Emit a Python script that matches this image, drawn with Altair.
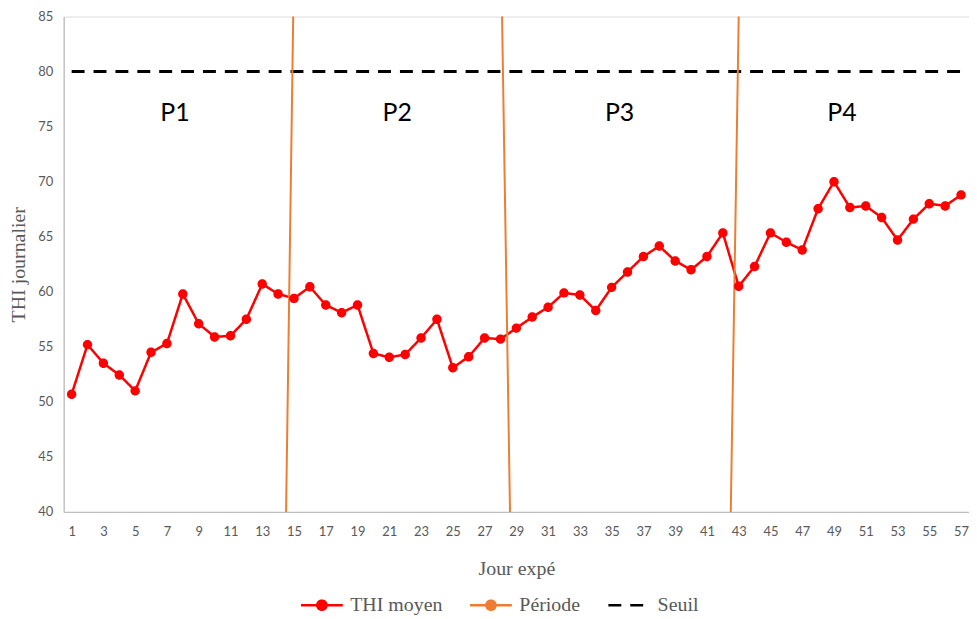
import altair as alt
import pandas as pd

# ---- data ----
days = list(range(1, 58))
thi_moyen = [50.7, 55.2, 53.5, 52.45, 51.0, 54.5, 55.3, 59.8, 57.1, 55.9,
             56.0, 57.5, 60.7, 59.8, 59.4, 60.45, 58.8, 58.1, 58.8, 54.4,
             54.05, 54.3, 55.8, 57.5, 53.1, 54.1, 55.8, 55.7, 56.7, 57.7,
             58.6, 59.9, 59.7, 58.3, 60.4, 61.8, 63.2, 64.15, 62.8, 62.0,
             63.2, 65.35, 60.5, 62.3, 65.35, 64.5, 63.8, 67.55, 70.0, 67.65,
             67.8, 66.75, 64.7, 66.6, 68.0, 67.8, 68.8]

periode_x_bas = [14.5, 28.6, 42.5]
periode_x_haut = [14.95, 28.1, 43.0]
periode_y_bas = [40, 40, 40]
periode_y_haut = [85, 85, 85]

seuil_value = 80
seuil_x_start = 1
seuil_x_end = 57

period_labels = ["P1", "P2", "P3", "P4"]
period_label_x = [7.5, 21.5, 35.5, 49.5]
period_label_y = [76.2, 76.2, 76.2, 76.2]

x_ticks = [1, 3, 5, 7, 9, 11, 13, 15, 17, 19, 21, 23, 25, 27, 29, 31, 33, 35,
           37, 39, 41, 43, 45, 47, 49, 51, 53, 55, 57]
y_ticks = [40, 45, 50, 55, 60, 65, 70, 75, 80, 85]

series_domain = ["THI moyen", "Période", "Seuil"]
series_colors = ["#FF0000", "#ED7D31", "#000000"]
series_dash = [[1, 0], [1, 0], [13, 9]]
DOT_LINE = "M-1,0L1,0M-0.22,0A0.22,0.22,0,1,1,0.22,0A0.22,0.22,0,1,1,-0.22,0Z"
series_shapes = [DOT_LINE, DOT_LINE, "M-1,0L1,0"]

# ---- tables ----
df_thi = pd.DataFrame({"day": days, "thi": thi_moyen, "serie": "THI moyen"})
df_per = pd.DataFrame({"xb": periode_x_bas, "xh": periode_x_haut,
                       "yb": periode_y_bas, "yh": periode_y_haut, "serie": "Période"})
df_seuil = pd.DataFrame({"x1": [seuil_x_start], "x2": [seuil_x_end],
                         "y": [seuil_value], "serie": ["Seuil"]})
df_lab = pd.DataFrame({"x": period_label_x, "y": period_label_y, "label": period_labels})

GREY = "#595959"
AXIS_LINE = "#BFBFBF"
SERIF = "Liberation Serif"

legend = alt.Legend(
    title=None, orient="none", legendX=237, legendY=569, direction="horizontal",
    labelFont=SERIF, labelFontSize=20, labelColor=GREY,
    symbolSize=1764, symbolStrokeWidth=2.5, labelOffset=6, columnPadding=22,
)

color = alt.Color("serie:N", scale=alt.Scale(domain=series_domain, range=series_colors), legend=legend)
dash = alt.StrokeDash("serie:N", scale=alt.Scale(domain=series_domain, range=series_dash), legend=legend)
shape = alt.Shape("serie:N", scale=alt.Scale(domain=series_domain, range=series_shapes), legend=legend)

xscale = alt.Scale(domain=[0.5, 57.5], nice=False, zero=False)
yscale = alt.Scale(domain=[40, 85], nice=False, zero=False)

x_axis = alt.Axis(values=x_ticks, title="Jour expé", grid=False, ticks=False,
                  domainColor=AXIS_LINE, domainWidth=1.3, labelFont="Lato", labelFontSize=13,
                  labelColor=GREY, labelPadding=14, labelFlush=False,
                  titleFont=SERIF, titleFontSize=20, titleColor=GREY,
                  titleFontWeight="normal", titlePadding=20)
y_axis = alt.Axis(values=y_ticks, title="THI journalier", grid=False, ticks=False,
                  domainColor=AXIS_LINE, domainWidth=1.3, labelFont="Lato", labelFontSize=13,
                  labelColor=GREY, labelPadding=11, labelFlush=False,
                  titleFont=SERIF, titleFontSize=20, titleColor=GREY,
                  titleFontWeight="normal", titlePadding=9)

base_x = alt.X("day:Q", scale=xscale, axis=x_axis)
base_y = alt.Y("thi:Q", scale=yscale, axis=y_axis)

line = alt.Chart(df_thi).mark_line(strokeWidth=2.5).encode(
    x=base_x, y=base_y, color=color, strokeDash=dash)

seuil = alt.Chart(df_seuil).mark_rule(strokeWidth=3).encode(
    x=alt.X("x1:Q", scale=xscale, axis=x_axis), x2="x2:Q",
    y=alt.Y("y:Q", scale=yscale, axis=y_axis),
    color=color, strokeDash=dash)

periods = alt.Chart(df_per).mark_rule(strokeWidth=2).encode(
    x=alt.X("xb:Q", scale=xscale, axis=x_axis), x2="xh:Q",
    y=alt.Y("yb:Q", scale=yscale, axis=y_axis), y2="yh:Q",
    color=color, strokeDash=dash)

points = alt.Chart(df_thi).mark_point(filled=True, size=1866, opacity=1).encode(
    x=base_x, y=base_y, color=color, shape=shape)

labels = alt.Chart(df_lab).mark_text(font="Lato", fontSize=25, color="black",
                                     baseline="middle", align="center").encode(
    x=alt.X("x:Q", scale=xscale, axis=x_axis),
    y=alt.Y("y:Q", scale=yscale, axis=y_axis),
    text="label:N")

chart = alt.layer(line, seuil, periods, points, labels).properties(
    width=910, height=498,
    autosize=alt.AutoSizeParams(type="none"),
    padding={"left": 56, "top": 7, "right": 0, "bottom": 105},
).configure_view(stroke=None).configure(background="white").configure_legend(
    labelFont=SERIF, labelFontSize=20, labelColor=GREY
)

chart.save("out.html", embed_options={"renderer": "svg", "actions": False})
